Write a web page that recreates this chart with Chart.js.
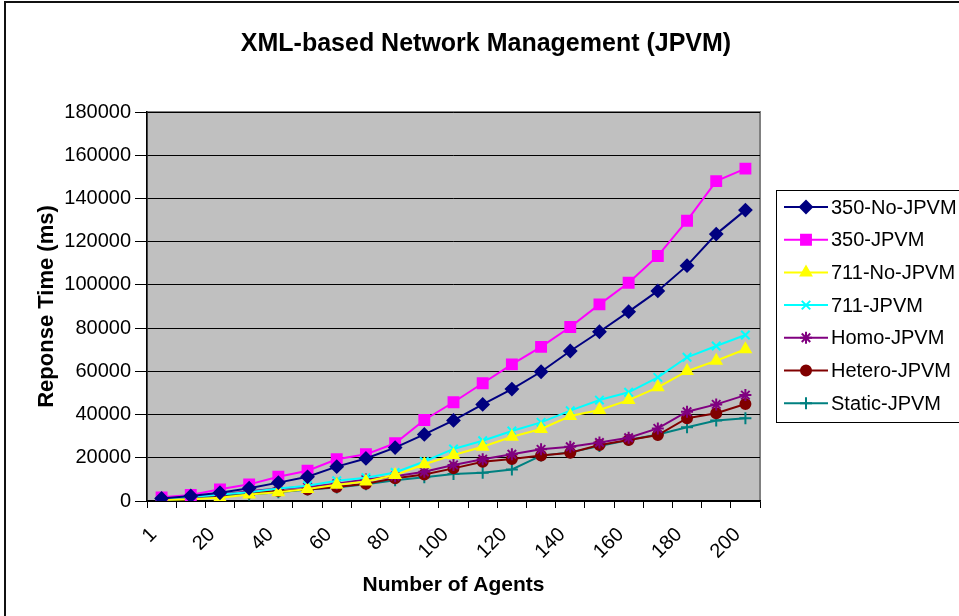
<!DOCTYPE html>
<html>
<head>
<meta charset="utf-8">
<script src="https://cdn.jsdelivr.net/npm/chart.js@4.4.1/dist/chart.umd.min.js"></script>
<style>
  html, body { margin: 0; padding: 0; background: #fff; }
  #wrap { width: 959px; height: 616px; }
</style>
</head>
<body>
<div id="wrap"><canvas id="myChart" width="959" height="616"></canvas></div>
<script>
// number of agents
var agents = [1, 10, 20, 30, 40, 50, 60, 70, 80, 90, 100, 110, 120, 130, 140, 150, 160, 170, 180, 190, 200];

// response times (ms)
var noJpvm350 = [1200, 2300, 3800, 5900, 8500, 11200, 15900, 19700, 24700, 30800, 37300, 44700, 51800, 59800, 69400, 78300, 87600, 97200, 108900, 123500, 134600];
var jpvm350   = [1700, 2800, 5400, 7700, 11200, 14000, 19300, 21600, 26700, 37500, 45700, 54500, 63200, 71300, 80500, 91000, 101000, 113400, 129700, 148000, 153800];
var noJpvm711 = [500, 800, 1500, 3000, 4000, 5500, 7500, 9000, 12000, 17000, 21300, 25100, 29700, 33300, 39300, 42100, 46700, 52600, 60100, 64900, 70200];
var jpvm711   = [1000, 1800, 3000, 4000, 5800, 7100, 9400, 10800, 13200, 18300, 24100, 27900, 32400, 36400, 41800, 46700, 50300, 57200, 66500, 71700, 76800];
var homoJpvm  = [1000, 1500, 3000, 4500, 5800, 6500, 8000, 9900, 11500, 13500, 16700, 19300, 21600, 23900, 25100, 27100, 29300, 33600, 41300, 44700, 49000];
var heteroJpvm = [1200, 2000, 2800, 3900, 4600, 5300, 6500, 8000, 10500, 12300, 15100, 18200, 19400, 21000, 22300, 25900, 28200, 30500, 38300, 40600, 44900];
var staticJpvm = [500, 1200, 2200, 3000, 4000, 5300, 6300, 7800, 9600, 11000, 12500, 13100, 14600, 21000, 22500, 25400, 28200, 30800, 34100, 37200, 38300];

var yTicks = [0, 20000, 40000, 60000, 80000, 100000, 120000, 140000, 160000, 180000];

var FONT = 'Liberation Sans, Arial, sans-serif';
Chart.defaults.color = '#000';
Chart.defaults.font.family = FONT;

function series(label, data, color, style, radius) {
    return {
        label: label,
        data: data,
        borderColor: color,
        backgroundColor: color,
        borderWidth: 2,
        pointStyle: style,
        pointRadius: radius,
        pointHoverRadius: radius,
        pointBorderWidth: 2,
        pointBackgroundColor: color,
        pointBorderColor: color,
        tension: 0
    };
}

// gray plot area + outer frame
var plotArea = {
    id: 'plotArea',
    beforeDraw: function(chart) {
        var ctx = chart.ctx, a = chart.chartArea;
        ctx.save();
        ctx.fillStyle = '#fff';
        ctx.fillRect(0, 0, chart.width, chart.height);
        ctx.strokeStyle = '#111';
        ctx.lineWidth = 2;
        ctx.strokeRect(5, 2, 2000, 2000);
        ctx.fillStyle = '#c0c0c0';
        ctx.fillRect(a.left, a.top, a.right - a.left, a.bottom - a.top);
        ctx.strokeStyle = '#808080';
        ctx.lineWidth = 2;
        ctx.strokeRect(a.left, a.top, a.right - a.left, a.bottom - a.top);
        ctx.restore();
    }
};

// Excel style boxed legend on the right
var boxLegend = {
    id: 'boxLegend',
    afterDraw: function(chart) {
        var ctx = chart.ctx;
        var left = 776, top = 190, rowH = 32.7, firstY = 207;
        ctx.save();
        ctx.fillStyle = '#fff';
        ctx.fillRect(left, top, 200, 232);
        ctx.strokeStyle = '#000';
        ctx.lineWidth = 1;
        ctx.strokeRect(left + 0.5, top + 0.5, 200, 232);
        ctx.font = '20px ' + FONT;
        ctx.textBaseline = 'middle';
        ctx.textAlign = 'left';
        chart.data.datasets.forEach(function(ds, i) {
            var y = firstY + i * rowH;
            ctx.strokeStyle = ds.borderColor;
            ctx.lineWidth = 2;
            ctx.beginPath();
            ctx.moveTo(784, y);
            ctx.lineTo(828, y);
            ctx.stroke();
            ctx.fillStyle = ds.borderColor;
            Chart.helpers.drawPoint(ctx, {
                pointStyle: ds.pointStyle,
                radius: ds.pointRadius,
                borderWidth: 2,
                rotation: 0
            }, 806, y);
            ctx.fillStyle = '#000';
            ctx.fillText(ds.label, 831, y + 1);
        });
        ctx.restore();
    }
};

var ctx = document.getElementById('myChart').getContext('2d');

var myChart = new Chart(ctx, {
    type: 'line',
    data: {
        labels: agents,
        datasets: [
            series('350-No-JPVM', noJpvm350, '#000080', 'rectRot', 6),
            series('350-JPVM', jpvm350, '#ff00ff', 'rect', 7),
            series('711-No-JPVM', noJpvm711, '#ffff00', 'triangle', 6),
            series('711-JPVM', jpvm711, '#00ffff', 'crossRot', 6),
            series('Homo-JPVM', homoJpvm, '#800080', 'star', 6),
            series('Hetero-JPVM', heteroJpvm, '#800000', 'circle', 5),
            series('Static-JPVM', staticJpvm, '#008080', 'cross', 6)
        ]
    },
    options: {
        responsive: false,
        animation: false,
        layout: {
            padding: { left: 31, right: 18, top: 0, bottom: 14 }
        },
        plugins: {
            legend: { display: false },
            tooltip: { enabled: false },
            title: {
                display: true,
                text: 'XML-based Network Management (JPVM)',
                font: { size: 25, weight: 'bold', family: FONT },
                color: '#000',
                padding: { top: 29, bottom: 53 }
            }
        },
        scales: {
            x: {
                offset: true,
                grid: {
                    offset: true,
                    drawOnChartArea: false,
                    color: '#000',
                    tickLength: 7,
                    tickColor: '#000'
                },
                border: { color: '#000', width: 1.5 },
                ticks: {
                    autoSkip: false,
                    minRotation: 45,
                    maxRotation: 45,
                    padding: 15,
                    labelOffset: -8,
                    font: { size: 20 },
                    callback: function(value, index) {
                        return index % 2 === 0 ? this.getLabelForValue(value) : '';
                    }
                },
                title: {
                    display: true,
                    text: 'Number of Agents',
                    font: { size: 21, weight: 'bold' },
                    padding: { top: 4, bottom: 4 }
                },
                afterFit: function(scale) { scale.height = 101; }
            },
            y: {
                min: 0,
                max: 180000,
                grid: {
                    color: '#000',
                    lineWidth: 1,
                    tickLength: 12,
                    tickColor: '#000'
                },
                border: { color: '#000', width: 1.5 },
                afterBuildTicks: function(scale) {
                    scale.ticks = yTicks.map(function(v) { return { value: v }; });
                },
                ticks: {
                    padding: 4,
                    font: { size: 20 },
                    callback: function(value) { return String(value); }
                },
                title: {
                    display: true,
                    text: 'Reponse Time (ms)',
                    font: { size: 22, weight: 'bold' },
                    padding: { top: 3, bottom: 3 }
                },
                afterFit: function(scale) { scale.width = 116; }
            },
            // empty right-hand box that keeps room for the legend
            side: {
                type: 'linear',
                position: 'right',
                display: true,
                grid: { display: false },
                border: { display: false },
                ticks: { display: false },
                afterFit: function(scale) { scale.width = 181; }
            }
        }
    },
    plugins: [plotArea, boxLegend]
});
</script>
</body>
</html>
